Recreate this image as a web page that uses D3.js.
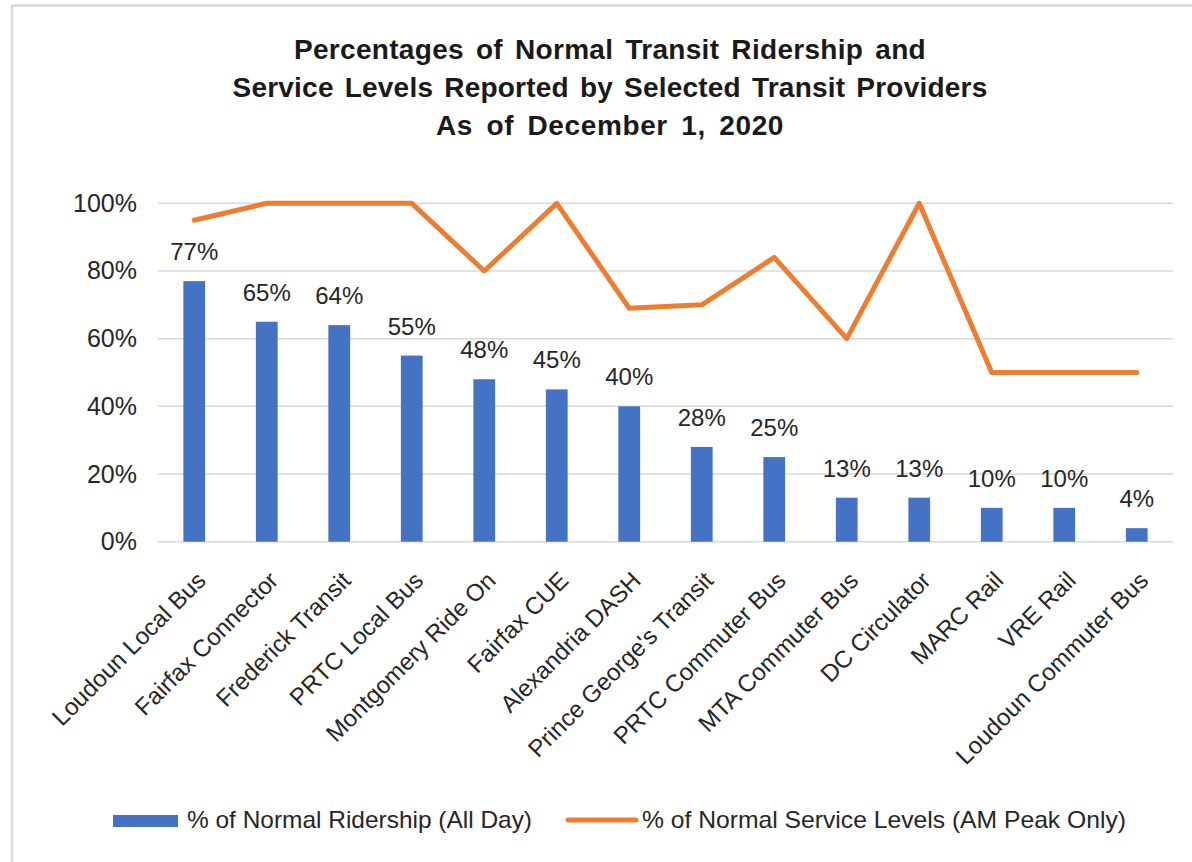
<!DOCTYPE html>
<html>
<head>
<meta charset="utf-8">
<script src="https://cdn.jsdelivr.net/npm/d3@7"></script>
<style>
  html, body { margin: 0; padding: 0; background: #fff; }
  svg { display: block; }
  text { font-family: "Liberation Sans", Arial, sans-serif; }
</style>
</head>
<body>
<svg id="chart" width="1192" height="862"></svg>
<script>
const titleLines = [
  "Percentages of Normal Transit Ridership and",
  "Service Levels Reported by Selected Transit Providers",
  "As of December 1, 2020"
];
const categories = [
  "Loudoun Local Bus", "Fairfax Connector", "Frederick Transit", "PRTC Local Bus",
  "Montgomery Ride On", "Fairfax CUE", "Alexandria DASH", "Prince George's Transit",
  "PRTC Commuter Bus", "MTA Commuter Bus", "DC Circulator", "MARC Rail",
  "VRE Rail", "Loudoun Commuter Bus"
];
const ridership = [77, 65, 64, 55, 48, 45, 40, 28, 25, 13, 13, 10, 10, 4];
const serviceLevels = [95, 100, 100, 100, 80, 100, 69, 70, 84, 60, 100, 50, 50, 50];
const yTicks = [0, 20, 40, 60, 80, 100];
const seriesNames = ["% of Normal Ridership (All Day)", "% of Normal Service Levels (AM Peak Only)"];

const svg = d3.select("#chart");

// frame
svg.append("line").attr("x1", 12).attr("x2", 1192).attr("y1", 5.5).attr("y2", 5.5)
  .attr("stroke", "#d9d9d9").attr("stroke-width", 2.5);
svg.append("line").attr("x1", 12).attr("x2", 12).attr("y1", 5).attr("y2", 862)
  .attr("stroke", "#d9d9d9").attr("stroke-width", 2.5);

// title: extra width shared between letter and word spacing
const titleW = [632, 755, 348];
const titleY = [59, 97, 135];
titleLines.forEach((t, i) => {
  const el = svg.append("text")
    .attr("x", 610).attr("y", titleY[i])
    .attr("text-anchor", "middle")
    .attr("font-size", 28).attr("font-weight", "bold").attr("fill", "#1a1a1a")
    .text(t);
  const len = el.node().getComputedTextLength();
  const nSpaces = (t.match(/ /g) || []).length;
  const extra = titleW[i] - len;
  if (extra > 0) {
    const ls = (extra * 0.4) / t.length;
    el.attr("letter-spacing", ls);
    el.attr("word-spacing", (extra * 0.6) / Math.max(1, nSpaces));
  }
});

const x = d3.scaleBand().domain(categories).range([158, 1173]).paddingInner(0.7).paddingOuter(0.35);
const y = d3.scaleLinear().domain([0, 100]).range([541.7, 203.3]);

// gridlines
svg.append("g").selectAll("line").data(yTicks).join("line")
  .attr("x1", 158).attr("x2", 1173)
  .attr("y1", d => y(d)).attr("y2", d => y(d))
  .attr("stroke", "#d9d9d9").attr("stroke-width", 1.5);

// y axis
const yAxis = d3.axisLeft(y).tickValues(yTicks).tickFormat(d => d + "%").tickSize(0).tickPadding(0);
const yg = svg.append("g").attr("transform", "translate(137,0)").call(yAxis);
yg.select(".domain").remove();
yg.selectAll("text").attr("font-size", 25).attr("fill", "#262626")
  .attr("font-family", "Liberation Sans, Arial, sans-serif").attr("dy", "0.32em");

// bars
svg.append("g").selectAll("rect").data(ridership).join("rect")
  .attr("x", (d, i) => x(categories[i]))
  .attr("width", x.bandwidth())
  .attr("y", d => y(d))
  .attr("height", d => y(0) - y(d))
  .attr("fill", "#4472C4");

// value labels
svg.append("g").selectAll("text").data(ridership).join("text")
  .attr("x", (d, i) => x(categories[i]) + x.bandwidth() / 2)
  .attr("y", d => y(d) - 21)
  .attr("text-anchor", "middle")
  .attr("font-size", 24).attr("fill", "#262626")
  .text(d => d + "%");

// line
const line = d3.line()
  .x((d, i) => x(categories[i]) + x.bandwidth() / 2)
  .y(d => y(d));
svg.append("path").datum(serviceLevels)
  .attr("d", line)
  .attr("fill", "none").attr("stroke", "#ED7D31").attr("stroke-width", 5)
  .attr("stroke-linejoin", "round").attr("stroke-linecap", "round");

// x axis labels
const xAxis = d3.axisBottom(x).tickSize(0).tickPadding(0);
const xg = svg.append("g").attr("transform", "translate(0,582)").call(xAxis);
xg.select(".domain").remove();
xg.selectAll("text")
  .attr("font-size", 24).attr("fill", "#262626")
  .attr("font-family", "Liberation Sans, Arial, sans-serif")
  .attr("text-anchor", "end")
  .attr("dy", 0).attr("y", 0)
  .attr("transform", "translate(13,0) rotate(-45)");

// legend
const lg = svg.append("g");
lg.append("rect").attr("x", 113).attr("y", 815).attr("width", 65).attr("height", 12).attr("fill", "#4472C4");
lg.append("text").attr("x", 187).attr("y", 828).attr("font-size", 24).attr("fill", "#262626")
  .attr("textLength", 345).attr("lengthAdjust", "spacingAndGlyphs").text(seriesNames[0]);
lg.append("line").attr("x1", 568).attr("x2", 636).attr("y1", 820).attr("y2", 820)
  .attr("stroke", "#ED7D31").attr("stroke-width", 5).attr("stroke-linecap", "round");
lg.append("text").attr("x", 642).attr("y", 828).attr("font-size", 24).attr("fill", "#262626")
  .attr("textLength", 484).attr("lengthAdjust", "spacingAndGlyphs").text(seriesNames[1]);
</script>
</body>
</html>
